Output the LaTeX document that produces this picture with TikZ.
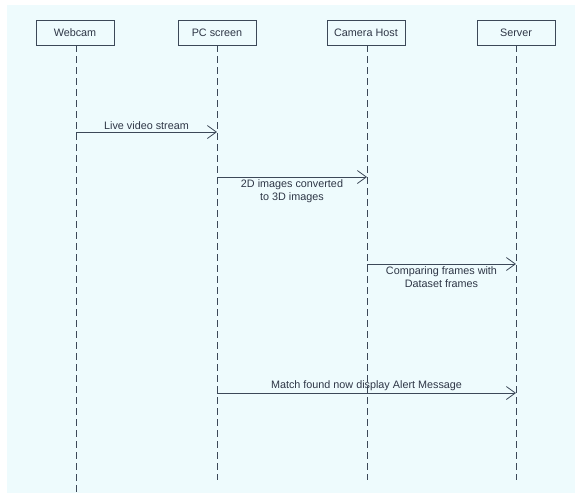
\documentclass[tikz,border=0pt]{standalone}
\usepackage{fontspec}
\setmainfont{Liberation Sans}
\usetikzlibrary{arrows.meta}
\definecolor{bgc}{HTML}{EEFBFD}
\definecolor{linec}{HTML}{3C4858}
\definecolor{txtc}{HTML}{2E3646}
\tikzset{
  actor/.style={draw=linec, line width=0.9pt, fill=bgc, minimum width=78pt, minimum height=25pt, inner sep=0pt, font=\fontsize{10.8}{12}\selectfont, text=txtc},
  lifeline/.style={draw=linec, line width=0.8pt, dash pattern=on 7pt off 4pt},
  msg/.style={draw=linec, line width=0.8pt, -{Straight Barb[length=9pt,width=13pt,line width=0.8pt]}},
  lbl/.style={font=\fontsize{10.8}{13}\selectfont, text=txtc, align=center, inner sep=1pt}
}
\begin{document}
\begin{tikzpicture}[x=1pt,y=-1pt]
\useasboundingbox (0,0) rectangle (575,493);
\fill[white] (0,0) rectangle (575,493);
\fill[bgc] (7,5) rectangle (575,493);
% actors
\node[actor] (web) at (75,32.5) {Webcam};
\node[actor] (pc) at (217,32.5) {PC screen};
\node[actor] (cam) at (366,32.5) {Camera Host};
\node[actor] (srv) at (516,32.5) {Server};
% lifeline ends
\coordinate (webE) at (76,493);
\coordinate (pcE) at (217,480);
\coordinate (camE) at (367,480);
\coordinate (srvE) at (516,480);
\draw[lifeline] (web.south -| webE) -- (webE);
\draw[lifeline] (pc.south -| pcE) -- (pcE);
\draw[lifeline] (cam.south -| camE) -- (camE);
\draw[lifeline] (srv.south -| srvE) -- (srvE);
% messages
\coordinate (m1a) at (76,132);
\coordinate (m1b) at (217,132);
\draw[msg] (m1a) -- node[lbl, above=1pt] {Live video stream} (m1b);
\coordinate (m2a) at (217,177);
\coordinate (m2b) at (367,177);
\draw[msg] (m2a) -- node[lbl, below=1pt] {2D images converted\\to 3D images} (m2b);
\coordinate (m3a) at (367,264);
\coordinate (m3b) at (516,264);
\draw[msg] (m3a) -- node[lbl, below=1pt] {Comparing frames with\\Dataset frames} (m3b);
\coordinate (m4a) at (217,393);
\coordinate (m4b) at (516,393);
\draw[msg] (m4a) -- node[lbl, above=1pt] {Match found now display Alert Message} (m4b);
\end{tikzpicture}
\end{document}
